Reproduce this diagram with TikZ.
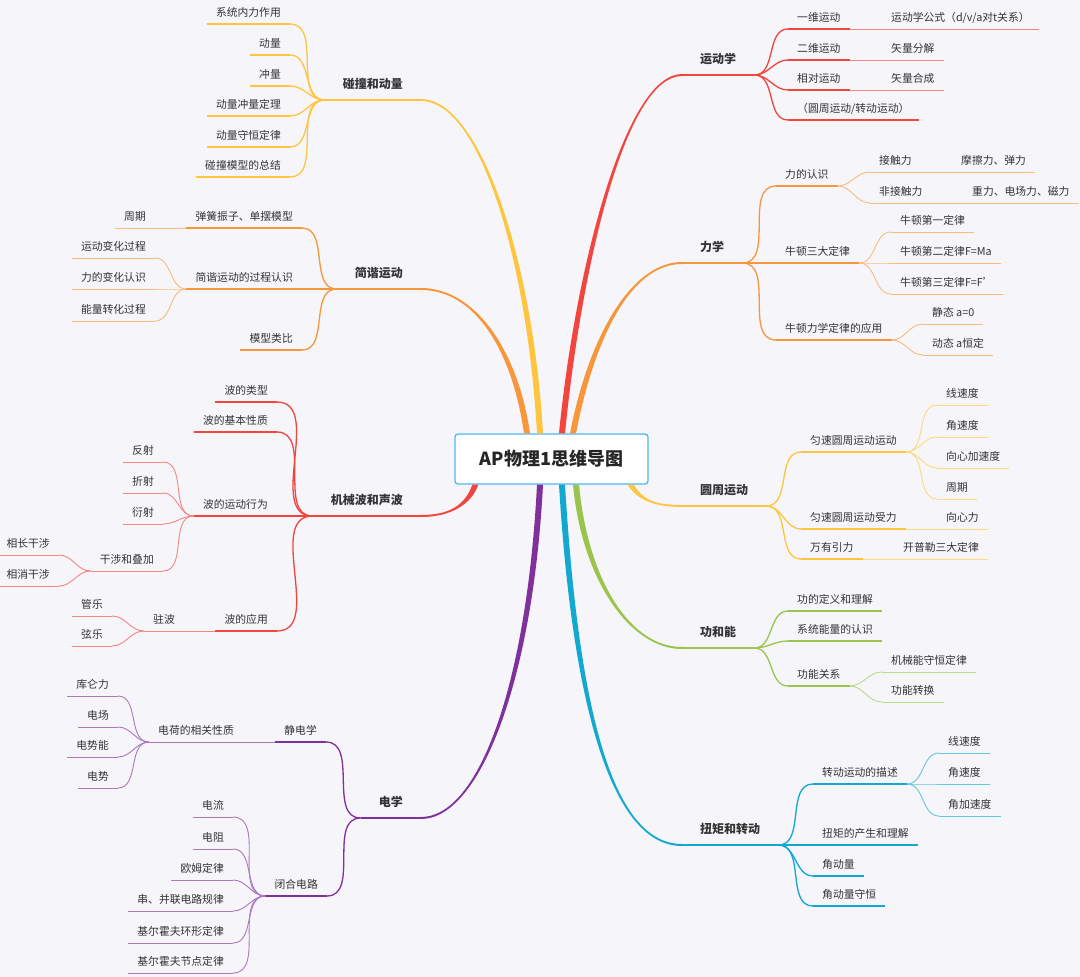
\documentclass[tikz,border=0pt]{standalone}
\usepackage{fontspec}
\setmainfont{Noto Sans CJK SC}
\usetikzlibrary{calc}

\definecolor{bgcol}{HTML}{F5F5FA}
\definecolor{txt}{HTML}{333333}
\definecolor{rootblue}{HTML}{4DB8F5}
\definecolor{kinred}{HTML}{F1453D}
\definecolor{dynor}{HTML}{F7963A}
\definecolor{circyel}{HTML}{FFC53F}
\definecolor{workgr}{HTML}{9BC44C}
\definecolor{rotcy}{HTML}{12A8CF}
\definecolor{elepu}{HTML}{80309A}
\colorlet{br}{black}

\tikzset{
  root/.style={draw=rootblue, line width=1.3pt, fill=white, rounded corners=3pt,
    minimum width=193pt, minimum height=50pt, text=black!85,
    font=\bfseries\fontsize{18}{20}\selectfont},
  lbl/.style={text=txt, text depth=2.5pt},
  topic/.style={lbl, font=\bfseries\fontsize{12}{14}\selectfont, inner xsep=18pt, inner ysep=9pt, text height=9pt,
    append after command={(\tikzlastnode.south west) edge[draw=br, line width=2pt] (\tikzlastnode.south east)}},
  sub/.style={lbl, font=\fontsize{10.8}{13}\selectfont, inner xsep=9pt, inner ysep=5pt, text height=8pt,
    append after command={(\tikzlastnode.south west) edge[draw=br, line width=1.3pt] (\tikzlastnode.south east)}},
  leaf/.style={lbl, font=\fontsize{10.8}{13}\selectfont, inner xsep=9pt, inner ysep=5pt, text height=8pt,
    append after command={(\tikzlastnode.south west) edge[draw=br!65, line width=0.9pt] (\tikzlastnode.south east)}},
  c2/.style={draw=br, line width=1.3pt},
  c3/.style={draw=br!65, line width=0.9pt},
  rto/.style={out=0, in=180},
  lto/.style={out=180, in=0},
  rside/.style={nodes={anchor=south west}},
  lside/.style={nodes={anchor=south east}}
}

% tapered main branch: colour, start, control 1, control 2, end, side at the end
\newcommand{\trunk}[6]{%
  \fill[#1] ($(#2)+(-3,0)$) .. controls ($(#3)+(-3,0)$) and ($(#4)+(0,#6)$) .. ($(#5)+(0,#6)$)
    -- ($(#5)+(0,{-(#6)})$) .. controls ($(#4)+(0,{-(#6)})$) and ($(#3)+(3,0)$) .. ($(#2)+(3,0)$) -- cycle;}

\begin{document}
\begin{tikzpicture}[x=1pt, y=-1pt]
  \useasboundingbox (0,0) rectangle (1080,977);
  \fill[bgcol] (0,0) rectangle (1080,977);

  %central topic
  \node[root] (root) at (551.5,459) {AP物理1思维导图};
  %where the main branches leave the box
  \coordinate (tN1) at ([xshift=-24.5pt]root.north);
  \coordinate (tN2) at ([xshift=-11.5pt]root.north);
  \coordinate (tN3) at ([xshift=10.5pt]root.north);
  \coordinate (tN4) at ([xshift=21.5pt]root.north);
  \coordinate (tS1) at ([xshift=21pt]root.south west);
  \coordinate (tS2) at ([xshift=-11.5pt]root.south);
  \coordinate (tS3) at ([xshift=10.5pt]root.south);
  \coordinate (tS4) at ([xshift=24.5pt]root.south);
  \coordinate (tS5) at ([xshift=-18pt]root.south east);

  %----- right side -----
  %kinematics
  \begin{scope}[rside]
    \colorlet{br}{kinred}
    \node[topic] (kin) at (682,75) {运动学};
    \node[sub] (kin1) at (788,29) {一维运动};
    \node[sub] (kin2) at (788,60) {二维运动};
    \node[sub] (kin3) at (788,90) {相对运动};
    \node[sub] (kin4) at (788,120) {（圆周运动/转动运动）};
    \node[leaf] (kin1a) at (882,29) {运动学公式（d/v/a对t关系）};
    \node[leaf] (kin2a) at (882,60) {矢量分解};
    \node[leaf] (kin3a) at (882,90) {矢量合成};
    \trunk{br}{tN3}{578,270}{625,75}{kin.south west}{-1}
    \foreach \c in {kin1,kin2,kin3,kin4} \draw[c2] (kin.south east) to[rto] (\c.south west);
    \foreach \a/\b in {kin1/kin1a,kin2/kin2a,kin3/kin3a} \draw[c3] (\a.south east) -- (\b.south west);
  \end{scope}

  %dynamics
  \begin{scope}[rside]
    \colorlet{br}{dynor}
    \node[topic] (dyn) at (682,263) {力学};
    \node[sub] (dyn1) at (776,186) {力的认识};
    \node[sub] (dyn2) at (776,263) {牛顿三大定律};
    \node[sub] (dyn3) at (776,340) {牛顿力学定律的应用};
    \node[leaf] (dyn1a) at (870,172) {接触力};
    \node[leaf] (dyn1b) at (870,203) {非接触力};
    \node[leaf] (dyn1a1) at (952,172) {摩擦力、弹力};
    \node[leaf] (dyn1b1) at (963,203) {重力、电场力、磁力};
    \node[leaf] (dyn2a) at (891,232) {牛顿第一定律};
    \node[leaf] (dyn2b) at (891,263) {牛顿第二定律F=Ma};
    \node[leaf] (dyn2c) at (891,294) {牛顿第三定律F=F'};
    \node[leaf] (dyn3a) at (923,324) {静态 a=0};
    \node[leaf] (dyn3b) at (923,355) {动态 a恒定};
    \trunk{br}{tN4}{592,335}{632,263}{dyn.south west}{-1}
    \foreach \c in {dyn1,dyn2,dyn3} \draw[c2] (dyn.south east) to[rto] (\c.south west);
    \foreach \a/\b in {dyn1/dyn1a,dyn1/dyn1b,dyn2/dyn2a,dyn2/dyn2b,dyn2/dyn2c,dyn3/dyn3a,dyn3/dyn3b}
      \draw[c3] (\a.south east) to[rto] (\b.south west);
    \foreach \a/\b in {dyn1a/dyn1a1,dyn1b/dyn1b1} \draw[c3] (\a.south east) -- (\b.south west);
  \end{scope}

  %circular motion
  \begin{scope}[rside]
    \colorlet{br}{circyel}
    \node[topic] (circ) at (682,506) {圆周运动};
    \node[sub] (circ1) at (801,452) {匀速圆周运动运动};
    \node[sub] (circ2) at (801,529) {匀速圆周运动受力};
    \node[sub] (circ3) at (801,559) {万有引力};
    \node[leaf] (circ1a) at (937,405) {线速度};
    \node[leaf] (circ1b) at (937,437) {角速度};
    \node[leaf] (circ1c) at (937,468) {向心加速度};
    \node[leaf] (circ1d) at (937,499) {周期};
    \node[leaf] (circ2a) at (937,529) {向心力};
    \node[leaf] (circ3a) at (894,559) {开普勒三大定律};
    \trunk{br}{tS5}{640,500}{655,506}{circ.south west}{1}
    \foreach \c in {circ1,circ2,circ3} \draw[c2] (circ.south east) to[rto] (\c.south west);
    \foreach \c in {circ1a,circ1b,circ1c,circ1d} \draw[c3] (circ1.south east) to[rto] (\c.south west);
    \foreach \a/\b in {circ2/circ2a,circ3/circ3a} \draw[c3] (\a.south east) -- (\b.south west);
  \end{scope}

  %work and energy
  \begin{scope}[rside]
    \colorlet{br}{workgr}
    \node[topic] (work) at (682,648) {功和能};
    \node[sub] (work1) at (788,611) {功的定义和理解};
    \node[sub] (work2) at (788,641) {系统能量的认识};
    \node[sub] (work3) at (788,686) {功能关系};
    \node[leaf] (work3a) at (882,672) {机械能守恒定律};
    \node[leaf] (work3b) at (882,702) {功能转换};
    \trunk{br}{tS4}{585,580}{630,648}{work.south west}{1}
    \foreach \c in {work1,work2,work3} \draw[c2] (work.south east) to[rto] (\c.south west);
    \foreach \c in {work3a,work3b} \draw[c3] (work3.south east) to[rto] (\c.south west);
  \end{scope}

  %torque and rotation
  \begin{scope}[rside]
    \colorlet{br}{rotcy}
    \node[topic] (rot) at (682,845) {扭矩和转动};
    \node[sub] (rot1) at (813,784) {转动运动的描述};
    \node[sub] (rot2) at (813,845) {扭矩的产生和理解};
    \node[sub] (rot3) at (813,876) {角动量};
    \node[sub] (rot4) at (813,906) {角动量守恒};
    \node[leaf] (rot1a) at (939,753) {线速度};
    \node[leaf] (rot1b) at (939,784) {角速度};
    \node[leaf] (rot1c) at (939,816) {角加速度};
    \trunk{br}{tS3}{575,700}{610,845}{rot.south west}{1}
    \foreach \c in {rot1,rot2,rot3,rot4} \draw[c2] (rot.south east) to[rto] (\c.south west);
    \foreach \c in {rot1a,rot1b,rot1c} \draw[c3] (rot1.south east) to[rto] (\c.south west);
  \end{scope}

  %----- left side -----
  %collisions and momentum
  \begin{scope}[lside]
    \colorlet{br}{circyel}
    \node[topic] (mom) at (421,100) {碰撞和动量};
    \node[sub] (mom1) at (290,24) {系统内力作用};
    \node[sub] (mom2) at (290,55) {动量};
    \node[sub] (mom3) at (290,86) {冲量};
    \node[sub] (mom4) at (290,116) {动量冲量定理};
    \node[sub] (mom5) at (290,147) {动量守恒定律};
    \node[sub] (mom6) at (290,177) {碰撞模型的总结};
    \trunk{br}{tN2}{530,260}{480,100}{mom.south east}{1}
    \foreach \c in {mom1,mom2,mom3,mom4,mom5,mom6} \draw[c2] (mom.south west) to[lto] (\c.south east);
  \end{scope}

  %simple harmonic motion
  \begin{scope}[lside]
    \colorlet{br}{dynor}
    \node[topic] (shm) at (421,289) {简谐运动};
    \node[sub] (shm1) at (302,228) {弹簧振子、单摆模型};
    \node[sub] (shm2) at (302,289) {简谐运动的过程认识};
    \node[sub] (shm3) at (302,350) {模型类比};
    \node[leaf] (shm1a) at (155,228) {周期};
    \node[leaf] (shm2a) at (155,258) {运动变化过程};
    \node[leaf] (shm2b) at (155,289) {力的变化认识};
    \node[leaf] (shm2c) at (155,321) {能量转化过程};
    \trunk{br}{tN1}{515,350}{475,289}{shm.south east}{1}
    \foreach \c in {shm1,shm2,shm3} \draw[c2] (shm.south west) to[lto] (\c.south east);
    \draw[c3] (shm1.south west) -- (shm1a.south east);
    \foreach \c in {shm2a,shm2b,shm2c} \draw[c3] (shm2.south west) to[lto] (\c.south east);
  \end{scope}

  %mechanical waves and sound
  \begin{scope}[lside]
    \colorlet{br}{kinred}
    \node[topic] (wave) at (421,516) {机械波和声波};
    \node[sub] (wave1) at (277,402) {波的类型};
    \node[sub] (wave2) at (277,432) {波的基本性质};
    \node[sub] (wave3) at (277,516) {波的运动行为};
    \node[sub] (wave4) at (277,631) {波的应用};
    \node[leaf] (wave3a) at (163,462) {反射};
    \node[leaf] (wave3b) at (163,493) {折射};
    \node[leaf] (wave3c) at (163,524) {衍射};
    \node[leaf] (wave3d) at (163,571) {干涉和叠加};
    \node[leaf] (wave3d1) at (59,555) {相长干涉};
    \node[leaf] (wave3d2) at (59,586) {相消干涉};
    \node[leaf] (wave4a) at (184,631) {驻波};
    \node[leaf] (wave4a1) at (112,616) {管乐};
    \node[leaf] (wave4a2) at (112,646) {弦乐};
    \trunk{br}{tS1}{468,505}{450,516}{wave.south east}{-1}
    \foreach \c in {wave1,wave2,wave3,wave4} \draw[c2] (wave.south west) to[lto] (\c.south east);
    \foreach \c in {wave3a,wave3b,wave3c,wave3d} \draw[c3] (wave3.south west) to[lto] (\c.south east);
    \foreach \c in {wave3d1,wave3d2} \draw[c3] (wave3d.south west) to[lto] (\c.south east);
    \draw[c3] (wave4.south west) -- (wave4a.south east);
    \foreach \c in {wave4a1,wave4a2} \draw[c3] (wave4a.south west) to[lto] (\c.south east);
  \end{scope}

  %electricity
  \begin{scope}[lside]
    \colorlet{br}{elepu}
    \node[topic] (ele) at (421,818) {电学};
    \node[sub] (ele1) at (326,742) {静电学};
    \node[sub] (ele2) at (327,896) {闭合电路};
    \node[leaf] (ele1a) at (243,742) {电荷的相关性质};
    \node[leaf] (ele1a1) at (118,696) {库仑力};
    \node[leaf] (ele1a2) at (118,727) {电场};
    \node[leaf] (ele1a3) at (118,757) {电势能};
    \node[leaf] (ele1a4) at (118,788) {电势};
    \node[leaf] (ele2a) at (233,817) {电流};
    \node[leaf] (ele2b) at (233,849) {电阻};
    \node[leaf] (ele2c) at (233,880) {欧姆定律};
    \node[leaf] (ele2d) at (233,911) {串、并联电路规律};
    \node[leaf] (ele2e) at (233,943) {基尔霍夫环形定律};
    \node[leaf] (ele2f) at (233,973) {基尔霍夫节点定律};
    \trunk{br}{tS2}{530,680}{480,818}{ele.south east}{-1}
    \foreach \c in {ele1,ele2} \draw[c2] (ele.south west) to[lto] (\c.south east);
    \draw[c3] (ele1.south west) -- (ele1a.south east);
    \foreach \c in {ele1a1,ele1a2,ele1a3,ele1a4} \draw[c3] (ele1a.south west) to[lto] (\c.south east);
    \foreach \c in {ele2a,ele2b,ele2c,ele2d,ele2e,ele2f} \draw[c3] (ele2.south west) to[lto] (\c.south east);
  \end{scope}
\end{tikzpicture}
\end{document}
